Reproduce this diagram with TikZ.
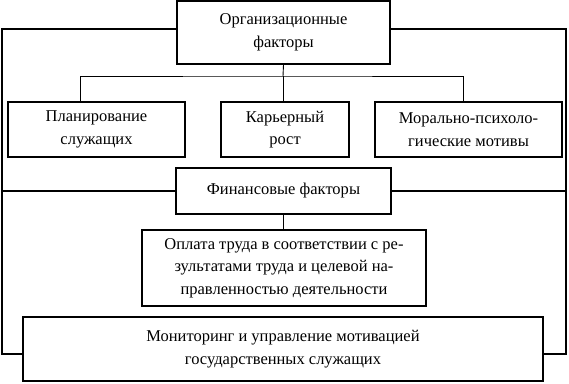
\documentclass[tikz,border=0pt]{standalone}
\usepackage{fontspec}
\setmainfont{Liberation Serif}
\begin{document}
\begin{tikzpicture}[x=1pt,y=-1pt,
  box/.style={draw,line width=1.3pt,rectangle,inner sep=0pt,align=center,
    font=\fontsize{16.5}{22.5}\selectfont},
  thin/.style={line width=0.9pt},
  outer/.style={line width=2pt}]
\useasboundingbox (0,0) rectangle (569,383);
\node[box,minimum width=213pt,minimum height=63pt] (org) at (283.5,32.5) {Организационные\\факторы};
\node[box,minimum width=177pt,minimum height=55pt] (plan) at (96.5,129.5) {Планирование\\служащих};
\node[box,minimum width=128pt,minimum height=55pt] (car) at (285,129.5) {Карьерный\\рост};
\node[box,minimum width=187pt,minimum height=55pt] (mor) at (468.5,129.5) {Морально-психоло-\\гические мотивы};
\node[box,minimum width=215pt,minimum height=46pt] (fin) at (283.5,191) {Финансовые факторы};
\node[box,minimum width=284pt,minimum height=76pt] (pay) at (284,268) {Оплата труда в соответствии с ре-\\зультатами труда и целевой на-\\правленностью деятельности};
\node[box,minimum width=520pt,minimum height=64pt] (mon) at (283,349) {Мониторинг и управление мотивацией\\государственных служащих};
\coordinate (bus) at (283,76);
\draw[thin] (org.south) -- (bus);
\draw[thin] (plan.north -| 80,0) |- (bus) -| (mor.north -| 463,0);
\draw[thin] (bus) -- (car.north -| bus);
\draw[thin] (fin.south) -- (pay.north -| fin.south);
\coordinate (L) at (2,29);
\coordinate (R) at (566,29);
\draw[outer] (org.west |- L) -- (L) |- ([yshift=-5pt]mon.west);
\draw[outer] (org.east |- R) -- (R) |- ([yshift=-5pt]mon.east);
\draw[outer] (fin.west) -- (fin.west -| L);
\draw[outer] (fin.east) -- (fin.east -| R);
\end{tikzpicture}
\end{document}
